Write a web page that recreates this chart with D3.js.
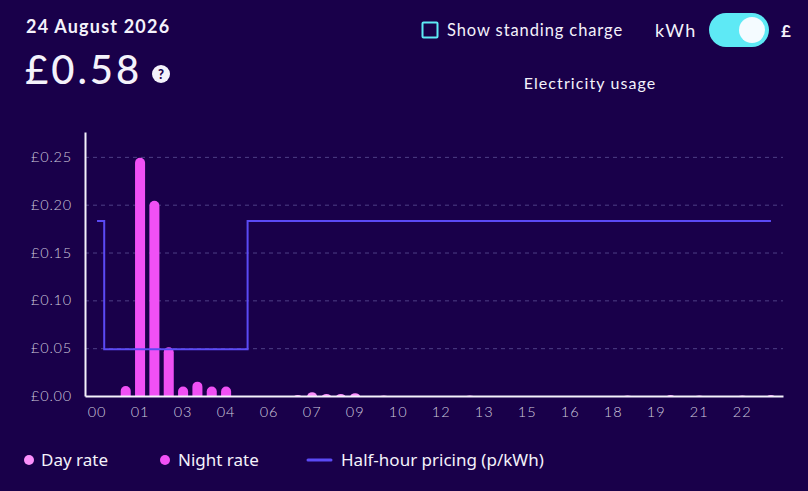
<!DOCTYPE html>
<html>
<head>
<meta charset="utf-8">
<script src="https://cdn.jsdelivr.net/npm/d3@7"></script>
<style>
  html, body { margin: 0; padding: 0; background: #19004a; }
  svg { display: block; }
</style>
</head>
<body>
<div id="chart"></div>
<script>
// half-hour slots 00:00 .. 23:30
const slots = d3.range(48).map(i => String(Math.floor(i / 2)).padStart(2, "0") + ":" + (i % 2 ? "30" : "00"));

// cost per half hour (£)
const costValues = [
  0, 0, 0.0105, 0.249, 0.204, 0.051, 0.010, 0.015, 0.010, 0.010,
  0, 0, 0, 0, 0.001, 0.004, 0.002, 0.002, 0.003, 0,
  0.0006, 0, 0, 0, 0, 0, 0.0006, 0, 0, 0,
  0, 0, 0, 0, 0, 0, 0, 0.0006, 0, 0,
  0.001, 0, 0.0006, 0, 0, 0.0006, 0, 0.001
];

// unit price per half hour (p/kWh)
const priceValues = [
  18.3, 4.9, 4.9, 4.9, 4.9, 4.9, 4.9, 4.9, 4.9, 4.9,
  4.9, 18.3, 18.3, 18.3, 18.3, 18.3, 18.3, 18.3, 18.3, 18.3,
  18.3, 18.3, 18.3, 18.3, 18.3, 18.3, 18.3, 18.3, 18.3, 18.3,
  18.3, 18.3, 18.3, 18.3, 18.3, 18.3, 18.3, 18.3, 18.3, 18.3,
  18.3, 18.3, 18.3, 18.3, 18.3, 18.3, 18.3, 18.3
];

const yTicks = [0, 0.05, 0.10, 0.15, 0.20, 0.25];
const xTickSlots = d3.range(0, 48, 3);

const legendItems = ["Day rate", "Night rate", "Half-hour pricing (p/kWh)"];

const width = 808;
const height = 491;

const colors = {
  bg: "#19004a",
  day: "#fb8ffb",
  night: "#f050f5",
  price: "#5b4af5",
  text: "#f4f2fb",
  tick: "#cfcade",
  grid: "#4e3f86",
  cyan: "#5ee9f5"
};

const margin = {left: 85, right: 25, top: 132, bottom: 95};

const svg = d3.select("#chart").append("svg")
  .attr("width", width)
  .attr("height", height)
  .attr("viewBox", [0, 0, width, height]);

svg.append("rect").attr("width", width).attr("height", height).attr("fill", colors.bg);

// header
svg.append("text")
  .attr("x", 26).attr("y", 33)
  .attr("font-family", "Lato").attr("font-weight", 700).attr("font-size", 18)
  .attr("letter-spacing", 1.2)
  .attr("fill", colors.text)
  .text("24 August 2026");

svg.append("text")
  .attr("x", 25).attr("y", 84)
  .attr("font-family", "Lato").attr("font-weight", 500).attr("font-size", 40)
  .attr("letter-spacing", 3)
  .attr("fill", colors.text)
  .text("£0.58");

svg.append("circle").attr("cx", 161).attr("cy", 74).attr("r", 9).attr("fill", colors.text);
svg.append("text")
  .attr("x", 161).attr("y", 79)
  .attr("text-anchor", "middle")
  .attr("font-family", "Lato").attr("font-weight", 900).attr("font-size", 13)
  .attr("fill", colors.bg)
  .text("?");

// controls
svg.append("rect")
  .attr("x", 422.5).attr("y", 22.5).attr("width", 15).attr("height", 15).attr("rx", 1)
  .attr("fill", "none").attr("stroke", colors.cyan).attr("stroke-width", 2);
svg.append("text")
  .attr("x", 447).attr("y", 36)
  .attr("font-family", "Lato").attr("font-size", 16.5)
  .attr("letter-spacing", 0.9)
  .attr("fill", colors.text)
  .text("Show standing charge");

svg.append("text")
  .attr("x", 655).attr("y", 37)
  .attr("font-family", "Lato").attr("font-size", 18)
  .attr("letter-spacing", 1.5)
  .attr("fill", colors.text)
  .text("kWh");
svg.append("rect")
  .attr("x", 709).attr("y", 13).attr("width", 60).attr("height", 34).attr("rx", 17)
  .attr("fill", colors.cyan);
svg.append("circle").attr("cx", 752).attr("cy", 30).attr("r", 13).attr("fill", "#f4fbff");
svg.append("text")
  .attr("x", 781).attr("y", 37)
  .attr("font-family", "Lato").attr("font-weight", 700).attr("font-size", 17)
  .attr("fill", colors.text)
  .text("£");

svg.append("text")
  .attr("x", 590).attr("y", 89)
  .attr("text-anchor", "middle")
  .attr("font-family", "Lato").attr("font-size", 16)
  .attr("letter-spacing", 1.1)
  .attr("fill", colors.text)
  .text("Electricity usage");

// scales
const x = d3.scaleBand()
  .domain(slots)
  .range([margin.left, width - margin.right])
  .paddingInner(0.3)
  .paddingOuter(0.49);

const y = d3.scaleLinear()
  .domain([0, 0.276])
  .range([height - margin.bottom, margin.top]);

const base = y(0);

// grid
svg.append("g")
  .selectAll("line")
  .data(yTicks.filter(d => d > 0))
  .join("line")
  .attr("x1", margin.left).attr("x2", width - margin.right)
  .attr("y1", d => y(d) + 0.5).attr("y2", d => y(d) + 0.5)
  .attr("stroke", colors.grid)
  .attr("stroke-dasharray", "4,4");

// y axis
const yAxis = svg.append("g")
  .attr("transform", `translate(${margin.left},0)`)
  .call(d3.axisLeft(y).tickValues(yTicks).tickSize(0).tickPadding(13)
    .tickFormat(d => "£" + d3.format(".2f")(d)));
yAxis.select(".domain").attr("stroke", colors.text).attr("stroke-width", 2);
yAxis.selectAll("text")
  .attr("font-family", "Lato").attr("font-size", 14.5).attr("font-weight", 300)
  .attr("letter-spacing", 0.8)
  .attr("fill", colors.tick);

// bars with rounded tops
svg.append("clipPath").attr("id", "plotclip")
  .append("rect")
  .attr("x", margin.left).attr("y", 0)
  .attr("width", width - margin.left).attr("height", base);

const r = x.bandwidth() / 2;
svg.append("g")
  .attr("clip-path", "url(#plotclip)")
  .selectAll("rect")
  .data(costValues.map((v, i) => ({slot: slots[i], v: v, p: priceValues[i]})).filter(d => d.v > 0))
  .join("rect")
  .attr("x", d => x(d.slot))
  .attr("y", d => y(d.v))
  .attr("width", x.bandwidth())
  .attr("height", d => base - y(d.v) + r)
  .attr("rx", r)
  .attr("fill", d => d.p < 10 ? colors.night : colors.day);

// pricing step line
const line = d3.line()
  .x((d, i) => x(slots[i]) + x.bandwidth() / 2)
  .y(d => y(d / 100))
  .curve(d3.curveStep);

svg.append("path")
  .datum(priceValues)
  .attr("fill", "none")
  .attr("stroke", colors.price)
  .attr("stroke-width", 2)
  .attr("d", line);

// x axis
const xAxis = svg.append("g")
  .attr("transform", `translate(0,${base})`)
  .call(d3.axisBottom(x).tickValues(xTickSlots.map(i => slots[i])).tickSize(0).tickPadding(11)
    .tickFormat(d => d.slice(0, 2)));
xAxis.select(".domain").attr("stroke", colors.text).attr("stroke-width", 2);
xAxis.selectAll("text")
  .attr("font-family", "Lato").attr("font-size", 14.5).attr("font-weight", 300)
  .attr("letter-spacing", 1)
  .attr("fill", colors.tick);

// legend
const legend = svg.append("g").attr("font-family", "Noto Sans").attr("font-size", 17).attr("fill", colors.text);
legend.append("circle").attr("cx", 29).attr("cy", 460).attr("r", 5).attr("fill", colors.day);
legend.append("text").attr("x", 41).attr("y", 466).text(legendItems[0]);
legend.append("circle").attr("cx", 165).attr("cy", 460).attr("r", 5).attr("fill", colors.night);
legend.append("text").attr("x", 178).attr("y", 466).text(legendItems[1]);
legend.append("line")
  .attr("x1", 308).attr("x2", 331).attr("y1", 460).attr("y2", 460)
  .attr("stroke", colors.price).attr("stroke-width", 3).attr("stroke-linecap", "round");
legend.append("text").attr("x", 341).attr("y", 466).text(legendItems[2]);
</script>
</body>
</html>
